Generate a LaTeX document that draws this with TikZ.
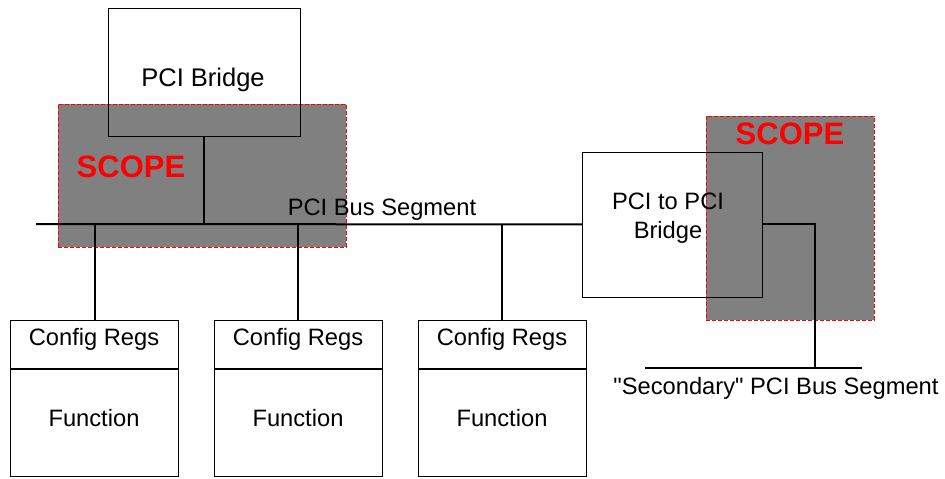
\documentclass[tikz,border=0pt]{standalone}
\usepackage{fontspec}
\setmainfont{Liberation Sans}[Ligatures=TeXOff]
\definecolor{scopegray}{RGB}{128,128,128}
\begin{document}
\begin{tikzpicture}[x=1pt,y=-1pt,
  box/.style={draw=black, line width=0.9pt, inner sep=0pt, anchor=north west, minimum width=168pt},
  bus/.style={line width=2pt},
  scopebox/.style={fill=scopegray, draw=red, dash pattern=on 4pt off 2pt, line width=0.8pt, inner sep=0pt, anchor=north west},
  scopetext/.style={text=red, font=\fontsize{31}{36}\selectfont\bfseries},
  lbl/.style={font=\fontsize{23.7}{29}\selectfont}]
\useasboundingbox (0,0) rectangle (945,479);

% shaded scope regions
\node[scopebox, minimum width=288pt, minimum height=143pt] (scopeL) at (58,104) {};
\node[scopebox, minimum width=168pt, minimum height=204pt] (scopeR) at (706,116) {};
\node[scopetext] (scopeLtxt) at (131,167) {SCOPE};
\node[scopetext] (scopeRtxt) at (790,134) {SCOPE};

% host bridge
\node[box, minimum width=192pt, minimum height=128pt] (host) at (108,8) {};
\node[lbl, font=\fontsize{25.5}{30}\selectfont] (hosttxt) at (203,80) {PCI Bridge};

% PCI to PCI bridge
\node[box, minimum width=180pt, minimum height=145pt] (p2p) at (582,151.5) {};
\node[lbl, align=center] (p2ptxt) at (668,218) {PCI to PCI\\Bridge};

% primary bus
\coordinate (busL) at (36,224);
\draw[bus] (busL) -- (p2p.west);
\node[lbl] (bustxt) at (382,210) {PCI Bus Segment};
\draw[bus] (host.south) -- (host.south |- busL);

% functions
\foreach \i/\x in {1/10, 2/214, 3/418} {
  \node[box, minimum height=48pt] (cfg\i) at (\x,320) {};
  \node[lbl] (cfg\i txt) at (\x+84,339) {Config Regs};
  \node[box, minimum height=108pt] (fn\i) at (\x,368) {};
  \node[lbl] (fn\i txt) at (\x+84,418) {Function};
  \draw[bus] (cfg\i.south west) -- (cfg\i.south east);
}
\draw[bus] (cfg1.north -| 95,0) -- (busL -| 95,0);
\draw[bus] (cfg2.north -| 298,0) -- (busL -| 298,0);
\draw[bus] (cfg3.north -| 502,0) -- (busL -| 502,0);

% secondary bus
\coordinate (secL) at (645,368);
\coordinate (secR) at (862,368);
\coordinate (secJ) at (815,368);
\draw[bus] (secL) -- (secR);
\draw[bus] (p2p.east) -| (secJ);
\node[lbl] (sectxt) at (776,388) {"Secondary" PCI Bus Segment};
\end{tikzpicture}
\end{document}
